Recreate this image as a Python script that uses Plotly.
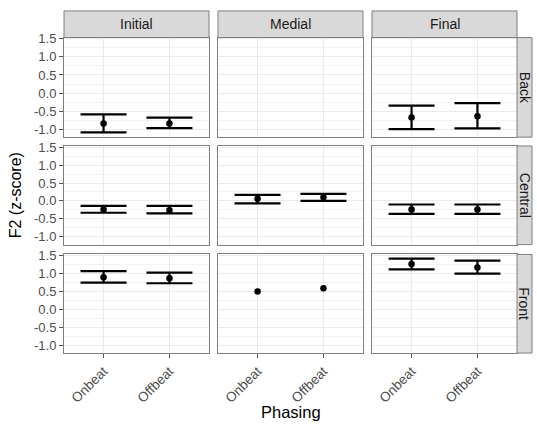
import plotly.graph_objects as go

# ---- data ----
phasing = ["Onbeat", "Offbeat"]
positions = ["Initial", "Medial", "Final"]
places = ["Back", "Central", "Front"]

# order: Initial-On, Initial-Off, Medial-On, Medial-Off, Final-On, Final-Off
back_mean = [-0.84, -0.84, None, None, -0.68, -0.64]
back_lower = [-1.09, -0.97, None, None, -1.00, -0.98]
back_upper = [-0.59, -0.68, None, None, -0.35, -0.28]

central_mean = [-0.24, -0.26, 0.06, 0.10, -0.24, -0.24]
central_lower = [-0.33, -0.35, -0.07, 0.00, -0.36, -0.36]
central_upper = [-0.14, -0.14, 0.17, 0.20, -0.10, -0.10]

front_mean = [0.90, 0.87, 0.50, 0.59, 1.27, 1.17]
front_lower = [0.75, 0.73, None, None, 1.12, 1.00]
front_upper = [1.07, 1.03, None, None, 1.42, 1.36]

y_ticks = [-1.0, -0.5, 0.0, 0.5, 1.0, 1.5]
y_tick_labels = ["-1.0", "-0.5", "0.0", "0.5", "1.0", "1.5"]

rows = [
    (back_mean, back_lower, back_upper),
    (central_mean, central_lower, central_upper),
    (front_mean, front_lower, front_upper),
]

# ---- layout geometry (pixels) ----
W, H = 537, 427
col_px = [(64, 209), (218, 363), (372, 517)]
row_px = [(32, 133), (142, 242), (252, 352)]
strip_top = 5
strip_right = 532

FONT = "Liberation Sans, Arial, sans-serif"
fig = go.Figure()


def px_x(x):
    return x / W


def px_y(y):
    return 1 - y / H


for r in range(3):
    mean, lower, upper = rows[r]
    for c in range(3):
        idx = r * 3 + c + 1
        xa = "x" if idx == 1 else f"x{idx}"
        ya = "y" if idx == 1 else f"y{idx}"
        m = mean[2 * c:2 * c + 2]
        lo = lower[2 * c:2 * c + 2]
        up = upper[2 * c:2 * c + 2]
        if all(v is None for v in m):
            fig.add_trace(go.Scatter(x=phasing, y=[None, None], mode="markers",
                                     xaxis=xa, yaxis=ya, showlegend=False,
                                     hoverinfo="skip"))
            continue
        err = None
        if not all(v is None for v in lo):
            err = dict(type="data", symmetric=False,
                       array=[u - mm for u, mm in zip(up, m)],
                       arrayminus=[mm - l for mm, l in zip(m, lo)],
                       width=23, thickness=2.2, color="black")
        fig.add_trace(go.Scatter(
            x=phasing, y=m, mode="markers",
            marker=dict(color="black", size=6.5),
            error_y=err, xaxis=xa, yaxis=ya, showlegend=False))

layout = dict(
    width=W, height=H,
    margin=dict(l=0, r=0, t=0, b=0),
    paper_bgcolor="white", plot_bgcolor="white",
    font=dict(family=FONT),
    shapes=[], annotations=[],
)

for r in range(3):
    for c in range(3):
        idx = r * 3 + c + 1
        xk = "xaxis" if idx == 1 else f"xaxis{idx}"
        yk = "yaxis" if idx == 1 else f"yaxis{idx}"
        x0, x1 = col_px[c]
        y0, y1 = row_px[r]
        layout[xk] = dict(
            domain=[px_x(x0), px_x(x1)],
            anchor="y" if idx == 1 else f"y{idx}",
            type="category", categoryorder="array", categoryarray=phasing,
            range=[-0.6, 1.6],
            showgrid=True, gridcolor="#EBEBEB", gridwidth=1,
            showline=True, mirror=True, linecolor="#7F7F7F", linewidth=1,
            zeroline=False,
            ticks="outside" if r == 2 else "", ticklen=4, tickcolor="#555555",
            showticklabels=(r == 2), tickangle=-45,
            tickfont=dict(family=FONT, size=13.5, color="#4D4D4D"),
            fixedrange=True,
        )
        layout[yk] = dict(
            domain=[px_y(y1), px_y(y0)],
            anchor="x" if idx == 1 else f"x{idx}",
            range=[-1.22, 1.535],
            tickvals=y_ticks, ticktext=y_tick_labels,
            showgrid=True, gridcolor="#EBEBEB", gridwidth=1,
            minor=dict(tickvals=[-0.75, -0.25, 0.25, 0.75, 1.25],
                       showgrid=True, gridcolor="#F3F3F3", gridwidth=0.6,
                       ticks=""),
            showline=True, mirror=True, linecolor="#7F7F7F", linewidth=1,
            zeroline=False,
            ticks="outside" if c == 0 else "", ticklen=4, tickcolor="#555555",
            showticklabels=(c == 0),
            tickfont=dict(family=FONT, size=13, color="#4D4D4D"),
            fixedrange=True,
        )

# top strips
for c, name in enumerate(positions):
    x0, x1 = col_px[c]
    layout["shapes"].append(dict(
        type="rect", xref="paper", yref="paper",
        x0=px_x(x0), x1=px_x(x1), y0=px_y(row_px[0][0]), y1=px_y(strip_top),
        fillcolor="#D9D9D9", line=dict(color="#7F7F7F", width=1), layer="above"))
    layout["annotations"].append(dict(
        text=name, xref="paper", yref="paper",
        x=px_x((x0 + x1) / 2), y=px_y((strip_top + row_px[0][0]) / 2),
        showarrow=False, xanchor="center", yanchor="middle",
        font=dict(family=FONT, size=14, color="#1A1A1A")))

# right strips
for r, name in enumerate(places):
    y0, y1 = row_px[r]
    layout["shapes"].append(dict(
        type="rect", xref="paper", yref="paper",
        x0=px_x(col_px[2][1]), x1=px_x(strip_right), y0=px_y(y1), y1=px_y(y0),
        fillcolor="#D9D9D9", line=dict(color="#7F7F7F", width=1), layer="above"))
    layout["annotations"].append(dict(
        text=name, xref="paper", yref="paper",
        x=px_x((col_px[2][1] + strip_right) / 2), y=px_y((y0 + y1) / 2),
        showarrow=False, xanchor="center", yanchor="middle", textangle=90,
        font=dict(family=FONT, size=14, color="#1A1A1A")))

# axis titles
layout["annotations"].append(dict(
    text="F2 (z-score)", xref="paper", yref="paper",
    x=px_x(15), y=px_y((row_px[0][0] + row_px[2][1]) / 2),
    showarrow=False, xanchor="center", yanchor="middle", textangle=-90,
    font=dict(family=FONT, size=16, color="black")))
layout["annotations"].append(dict(
    text="Phasing", xref="paper", yref="paper",
    x=px_x((col_px[0][0] + col_px[2][1]) / 2), y=px_y(412),
    showarrow=False, xanchor="center", yanchor="middle",
    font=dict(family=FONT, size=16.5, color="black")))

fig.update_layout(**layout)
fig.write_html("out.html", config={"displayModeBar": False},
               post_script="document.body.style.margin='0';"
                           "document.body.style.overflow='hidden';")
